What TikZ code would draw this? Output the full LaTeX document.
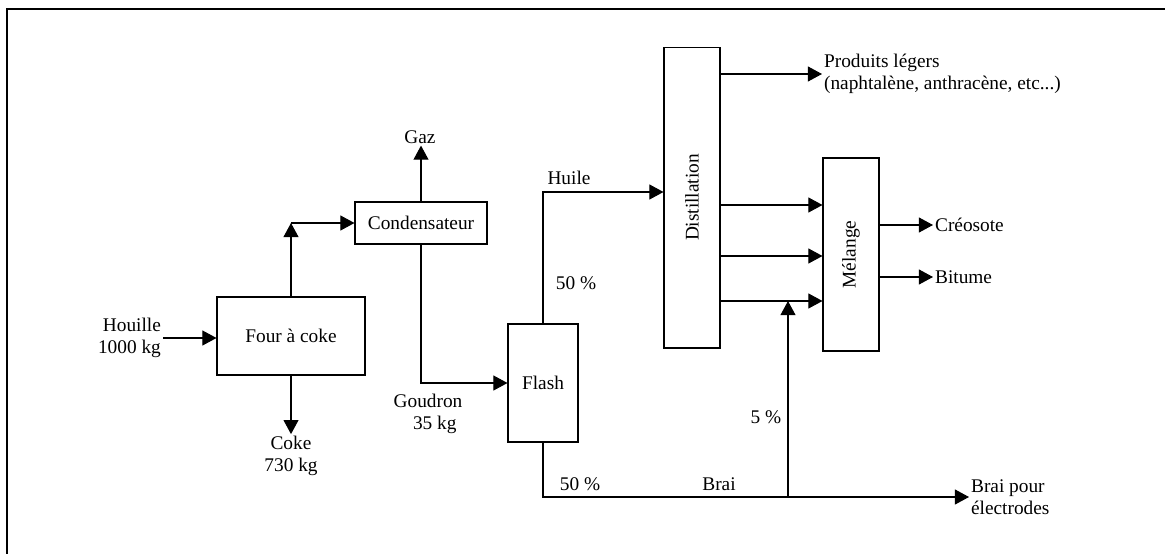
\documentclass[tikz,border=0pt]{standalone}
\usepackage{fontspec}
\setmainfont{Liberation Serif}
\usetikzlibrary{arrows.meta,positioning,calc}
\tikzset{
 bloc/.style={draw, line width=0.6pt, inner sep=0pt},
 flux/.style={line width=0.6pt, -{Triangle[length=8pt,width=8.5pt]}},
 etiq/.style={inner sep=1pt, align=center},
}

\begin{document}
\begin{tikzpicture}[x=0.02cm, y=-0.02cm, font=\fontsize{11}{12.5}\selectfont]
 \useasboundingbox (0,0) rectangle (1169,554);
 \draw[line width=1.1pt] (7,554) -- (7,9) -- (1165,9);
 % blocs
 \node[bloc, minimum width=2.96cm, minimum height=1.56cm] (four) at (291,336) {Four à coke};
 \node[bloc, minimum width=2.64cm, minimum height=0.84cm] (cond) at (421,223) {Condensateur};
 \node[bloc, minimum width=1.4cm, minimum height=2.36cm] (flash) at (543,383) {Flash};
 \node[bloc, minimum width=1.12cm, minimum height=6.02cm] (dist) at (692,197.5) {\rotatebox{90}{Distillation}};
 \node[bloc, minimum width=1.12cm, minimum height=3.86cm] (mel) at (851,254.5) {\rotatebox{90}{Mélange}};
 % etiquettes
 \node[etiq, anchor=east, align=right] (houille) at (163,338) {Houille\\1000 kg};
 \node[etiq] (coke) at (291,456) {Coke\\730 kg};
 \node[etiq] (gaz) at (420,137) {Gaz};
 \node[etiq] (goudron) at (428,414) {Goudron\\\hspace*{0.7em}35 kg};
 \node[etiq] (huile) at (569,178) {Huile};
 \node[etiq] (pc1) at (576,283) {50 \%};
 \node[etiq] (pc2) at (580,484) {50 \%};
 \node[etiq] (brai) at (719,484) {Brai};
 \node[etiq] (pc3) at (766,417) {5 \%};
 \node[etiq, anchor=west, align=left] (prod) at (822,74) {Produits légers\\(naphtalène, anthracène, etc...)};
 \node[etiq, anchor=west] (creo) at (933,225) {Créosote};
 \node[etiq, anchor=west] (bit) at (933,277) {Bitume};
 \node[etiq, anchor=west, align=left] (electr) at (969,497) {Brai pour\\électrodes};
 % flux
 \coordinate (coin) at (four.north |- cond.west);
 \coordinate (entree) at (dist.west |- 0,192);
 \coordinate (jonc) at (788,497);
 \coordinate (melin) at (788,301);
 \draw[flux] (houille.east) -- (four.west |- houille.east);
 \draw[flux] (four.south) -- (four.south |- coke.north);
 \draw[flux] (four.north) -- (coin);
 \draw[flux] (coin) -- (cond.west);
 \draw[flux] (cond.north) -- (cond.north |- gaz.south);
 \draw[flux] (cond.south) |- (flash.west);
 \draw[flux] (flash.north) |- (entree);
 \draw[flux] (flash.south) |- (electr.west);
 \draw[flux] (jonc) -- (melin);
 \draw[flux] (dist.east |- prod.west) -- (prod.west);
 \foreach \y in {205,256,301}
  \draw[flux] (dist.east |- 0,\y) -- (mel.west |- 0,\y);
 \draw[flux] (mel.east |- creo.west) -- (creo.west);
 \draw[flux] (mel.east |- bit.west) -- (bit.west);
\end{tikzpicture}
\end{document}
